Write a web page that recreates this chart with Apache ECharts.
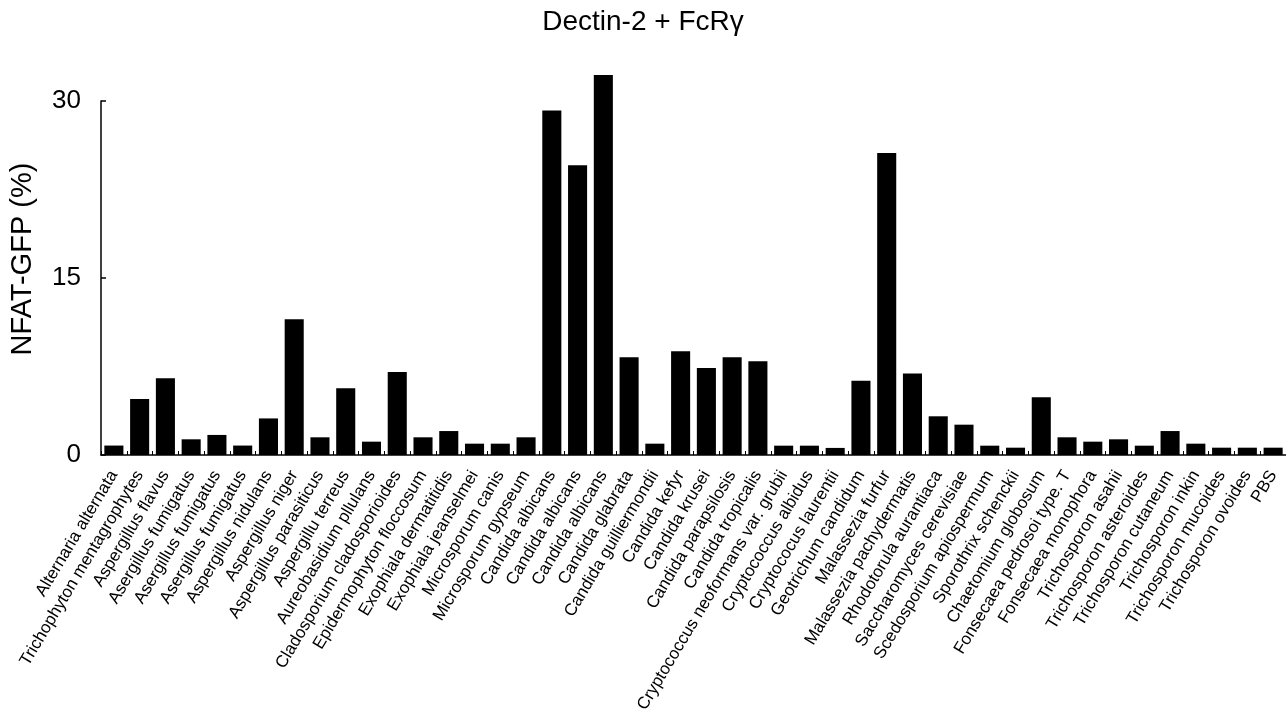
<!DOCTYPE html>
<html>
<head>
<meta charset="utf-8">
<script src="https://cdn.jsdelivr.net/npm/echarts@6/dist/echarts.min.js"></script>
<style>
html,body{margin:0;padding:0;background:#fff;}
#chart{width:1286px;height:721px;}
</style>
</head>
<body>
<div id="chart"></div>
<script>
const titleText = 'Dectin-2 + FcRγ';
const yAxisName = 'NFAT-GFP (%)';
const categories = [
  'Alternaria alternata','Trichophyton mentagrophytes','Aspergillus flavus','Asergillus fumigatus',
  'Asergillus fumigatus','Asergillus fumigatus','Aspergillus nidulans','Aspergillus niger',
  'Aspergillus parasiticus','Aspergillu terreus','Aureobasidium pllulans','Cladosporium cladosporioides',
  'Epidermophyton floccosum','Exophiala dermatitidis','Exophiala jeanselmei','Microsporum canis',
  'Microsporum gypseum','Candida albicans','Candida albicans','Candida albicans',
  'Candida glabrata','Candida guilliermondii','Candida kefyr','Candida krusei',
  'Candida parapsilosis','Candida tropicalis','Cryptococcus neoformans var. grubii','Cryptococcus albidus',
  'Cryptococus laurentii','Geotrichum candidum','Malassezia furfur','Malassezia pachydermatis',
  'Rhodotorula aurantiaca','Saccharomyces cerevisiae','Scedosporium apiospermum','Sporothrix schenckii',
  'Chaetomium globosum','Fonsecaea pedrosoi type. T','Fonsecaea monophora','Trichosporon asahii',
  'Trichosporon asteroides','Trichosporon cutaneum','Trichosporon inkin','Trichosporon mucoides',
  'Trichosporon ovoides','PBS'
];
const values = [
  0.8, 4.75, 6.5, 1.33,
  1.7, 0.8, 3.1, 11.5,
  1.5, 5.65, 1.13, 7.03,
  1.5, 2.03, 0.96, 0.96,
  1.5, 29.2, 24.55, 32.2,
  8.28, 0.96, 8.8, 7.37,
  8.28, 7.94, 0.79, 0.79,
  0.6, 6.3, 25.6, 6.9,
  3.28, 2.57, 0.79, 0.62,
  4.89, 1.5, 1.13, 1.33,
  0.79, 2.03, 0.96, 0.62,
  0.62, 0.62
];
const yTicks = [0, 15, 30];

const chart = echarts.init(document.getElementById('chart'), null, {renderer: 'canvas'});
const FONT = '"Liberation Sans", Arial, Helvetica, sans-serif';
chart.setOption({
  animation: false,
  backgroundColor: '#ffffff',
  title: {
    text: titleText,
    left: 'center',
    top: 3,
    textStyle: {fontFamily: FONT, fontSize: 28, fontWeight: 'normal', color: '#000'}
  },
  grid: {left: 95, top: 101, width: 1194, height: 354, containLabel: false},
  xAxis: {
    type: 'category',
    data: categories,
    axisLine: {show: true, lineStyle: {color: '#000', width: 1.5}},
    axisTick: {show: true, inside: true, length: 4, lineStyle: {color: '#000'}},
    axisLabel: {
      interval: 0,
      rotate: 59,
      margin: 17,
      fontFamily: FONT,
      fontSize: 17,
      color: '#000'
    }
  },
  yAxis: {
    type: 'value',
    min: 0,
    max: 30,
    interval: 15,
    name: yAxisName,
    nameLocation: 'middle',
    nameRotate: 90,
    nameGap: 64,
    nameTextStyle: {fontFamily: FONT, fontSize: 29, color: '#000', padding: [0, 0, 0, 38]},
    splitLine: {show: false},
    axisLine: {show: true, lineStyle: {color: '#000', width: 1.5}},
    axisTick: {show: true, inside: true, length: 5, lineStyle: {color: '#000', width: 1.5}},
    axisLabel: {
      margin: 20,
      fontFamily: FONT,
      fontSize: 26,
      color: '#000',
      formatter: function (v) { return yTicks.indexOf(v) >= 0 ? String(v) : ''; }
    }
  },
  series: [{
    type: 'bar',
    data: values,
    clip: false,
    barWidth: '74%',
    itemStyle: {color: '#000'}
  }]
});
</script>
</body>
</html>
